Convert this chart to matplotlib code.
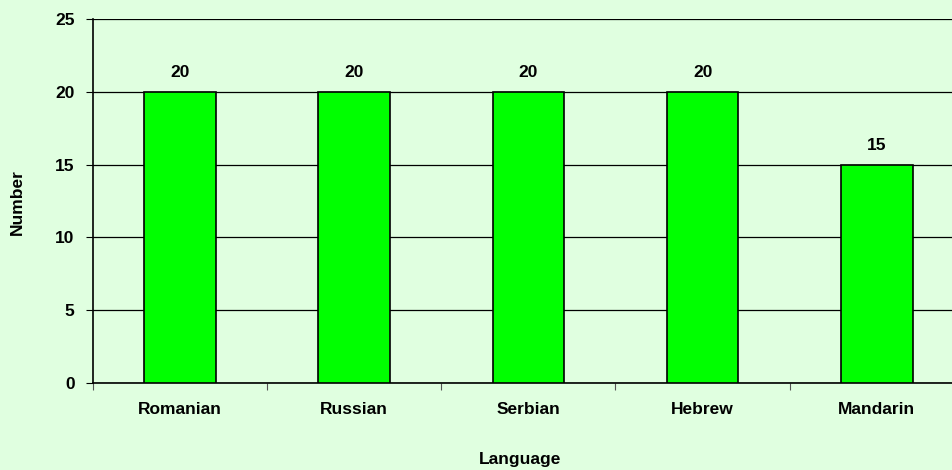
import matplotlib.pyplot as plt
import numpy as np

languages = ['Romanian', 'Russian', 'Serbian', 'Hebrew', 'Mandarin']
counts = [20, 20, 20, 20, 15]
yticks = [0, 5, 10, 15, 20, 25]

bg = '#e0ffe0'
plt.rcParams['font.family'] = ['Liberation Sans', 'DejaVu Sans']
plt.rcParams['font.weight'] = 'bold'
fs = 12.5

fig = plt.figure(figsize=(9.53, 4.70), dpi=100, facecolor=bg)
ax = fig.add_axes([0.0973, 0.1857, 0.9142, 0.7733], facecolor=bg)

x = np.arange(len(languages))
ax.set_axisbelow(True)
ax.yaxis.grid(True, color='black', linewidth=0.9)
bars = ax.bar(x, counts, width=0.41, color='#00ff00', edgecolor='black', linewidth=1.2, zorder=3)
for b, v in zip(bars, counts):
    ax.text(b.get_x() + b.get_width() / 2, v + 1.35, str(v), ha='center', va='center',
            fontsize=fs, fontweight='bold')

ax.set_xlim(-0.5, len(languages) - 0.5)
ax.set_ylim(0, 25)
ax.set_yticks(yticks)
ax.set_xticks(np.arange(len(languages) + 1) - 0.5)
ax.set_xticklabels([])
ax.set_xticks(x, minor=True)
ax.set_xticklabels(languages, minor=True, fontsize=fs, fontweight='bold')
ax.tick_params(axis='x', which='minor', length=0, pad=14)
ax.tick_params(axis='x', which='major', length=5, color='#555555', direction='out')
ax.tick_params(axis='y', length=5, direction='out', pad=8, labelsize=fs)

for s in ['top', 'right']:
    ax.spines[s].set_visible(False)
ax.spines['left'].set_linewidth(1.2)
ax.spines['bottom'].set_linewidth(1.2)

fig.text(0.546, 0.022, 'Language', ha='center', va='center', fontsize=fs, fontweight='bold')
fig.text(0.018, 0.57, 'Number', ha='center', va='center', rotation=90, fontsize=fs, fontweight='bold')

fig.savefig('out.png', dpi=100, facecolor=bg)
